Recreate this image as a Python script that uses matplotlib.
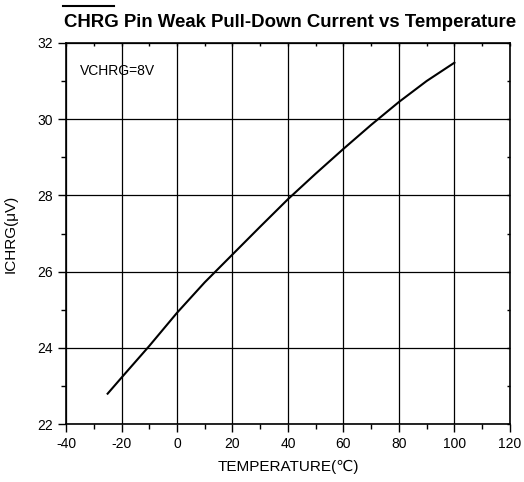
import matplotlib
matplotlib.use("Agg")
import matplotlib.pyplot as plt
from matplotlib.ticker import MultipleLocator
from matplotlib.lines import Line2D

plt.rcParams['font.family'] = ['Liberation Sans', 'DejaVu Sans']
plt.rcParams['axes.unicode_minus'] = False

# values
temp = [-25, -20, -10, 0, 10, 20, 30, 40, 50, 60, 70, 80, 90, 100]
ichrg = [22.8, 23.22, 24.05, 24.92, 25.72, 26.45, 27.18, 27.9, 28.57, 29.22, 29.85, 30.45, 31.0, 31.48]

xticks = [-40, -20, 0, 20, 40, 60, 80, 100, 120]
yticks = [22, 24, 26, 28, 30, 32]

fig = plt.figure(figsize=(5.24, 4.82), dpi=100)
ax = fig.add_axes([0.126, 0.120, 0.847, 0.791])

ax.plot(temp, ichrg, color='black', lw=1.5)

ax.set_xlim(-40, 120)
ax.set_ylim(22, 32)
ax.set_xticks(xticks)
ax.set_yticks(yticks)
ax.xaxis.set_minor_locator(MultipleLocator(10))
ax.yaxis.set_minor_locator(MultipleLocator(1))
ax.grid(True, which='major', color='black', lw=0.9)
ax.tick_params(which='both', direction='out', labelsize=10, width=1)
ax.tick_params(which='major', length=6)
ax.tick_params(which='minor', length=3.5)
for s in ax.spines.values():
    s.set_linewidth(1.2)

# small inward minor ticks on top and right
sx = ax.secondary_xaxis('top')
sx.set_xticks([])
sx.xaxis.set_minor_locator(MultipleLocator(10))
sx.tick_params(which='minor', direction='in', length=2.5, width=1)
sx.spines['top'].set_visible(False)
sy = ax.secondary_yaxis('right')
sy.set_yticks([])
sy.yaxis.set_minor_locator(MultipleLocator(1))
sy.tick_params(which='minor', direction='in', length=2, width=1)
sy.spines['right'].set_visible(False)

ax.set_xlabel('TEMPERATURE(℃)', fontsize=11, labelpad=6)
ax.set_ylabel('ICHRG(μV)', fontsize=11, labelpad=14)
ax.text(-35, 31.15, 'VCHRG=8V', fontsize=10)

fig.text(0.554, 0.953, 'CHRG Pin Weak Pull-Down Current vs Temperature',
         ha='center', va='center', fontsize=13.4, fontweight='bold')
fig.add_artist(Line2D([63 / 524, 114 / 524], [1 - 6 / 482, 1 - 6 / 482],
                      color='black', lw=1.5, transform=fig.transFigure))

fig.savefig('out.png', dpi=100)
